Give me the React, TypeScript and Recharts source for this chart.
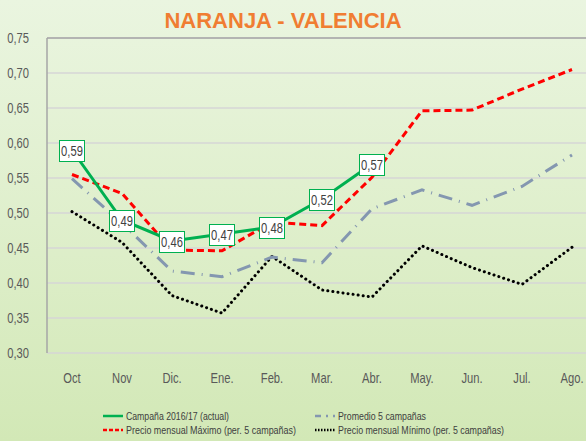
import { LineChart, Line, XAxis, YAxis, CartesianGrid, LabelList, ReferenceLine } from 'recharts';

const months = ['Oct', 'Nov', 'Dic.', 'Ene.', 'Feb.', 'Mar.', 'Abr.', 'May.', 'Jun.', 'Jul.', 'Ago.'];
const actual = [0.59, 0.49, 0.46, 0.47, 0.48, 0.52, 0.57, null, null, null, null];
const maximo = [0.555, 0.528, 0.447, 0.446, 0.487, 0.482, 0.551, 0.646, 0.647, 0.677, 0.705];
const promedio = [0.549, 0.485, 0.417, 0.409, 0.437, 0.429, 0.506, 0.533, 0.511, 0.538, 0.583];
const minimo = [0.502, 0.458, 0.382, 0.357, 0.438, 0.39, 0.38, 0.453, 0.422, 0.398, 0.451];
const yTicks = [0.3, 0.35, 0.4, 0.45, 0.5, 0.55, 0.6, 0.65, 0.7, 0.75];

const data = months.map((m, i) => ({
  month: m,
  actual: actual[i],
  maximo: maximo[i],
  promedio: promedio[i],
  minimo: minimo[i],
}));

const FONT = '"Liberation Sans", Arial, sans-serif';
const SQUEEZE = 0.8; // imita Arial Narrow
const fmt = (v: number) => v.toFixed(2).replace('.', ',');

const XTick = (props: any) => {
  const { x, y, payload } = props;
  return (
    <g transform={`translate(${x},${y}) scale(${SQUEEZE},1)`}>
      <text x={0} y={0} dy={10} textAnchor="middle" fontSize={14} fontFamily={FONT} fill="#595959">
        {payload.value}
      </text>
    </g>
  );
};

const YTick = (props: any) => {
  const { x, y, payload } = props;
  return (
    <g transform={`translate(${x},${y}) scale(${SQUEEZE},1)`}>
      <text x={0} y={0} dy={5} textAnchor="end" fontSize={14} fontFamily={FONT} fill="#595959">
        {fmt(payload.value)}
      </text>
    </g>
  );
};

// recuadro blanco con borde verde para los valores actuales
const BoxLabel = (props: any) => {
  const { x, y, value } = props;
  if (value == null) return null;
  const w = 25;
  const h = 21;
  return (
    <g>
      <rect x={x - w / 2} y={y - h / 2 + 1} width={w} height={h} fill="#fff" stroke="#00b050" strokeWidth={1} />
      <g transform={`translate(${x},${y + 6}) scale(${SQUEEZE},1)`}>
        <text x={0} y={0} textAnchor="middle" fontSize={14} fontFamily={FONT} fill="#404040">
          {fmt(value)}
        </text>
      </g>
    </g>
  );
};

const legendItems = [
  { label: 'Campaña 2016/17  (actual)', color: '#00b050', dash: undefined, x: 103, y: 416, len: 103 },
  { label: 'Promedio 5 campañas', color: '#8497b0', dash: '6 5 2 5', x: 315, y: 416, len: 88 },
  { label: 'Precio mensual Máximo  (per. 5 campañas)', color: '#ff0000', dash: '4 2', x: 103, y: 430, len: 170 },
  { label: 'Precio mensual Mínimo (per. 5 campañas)', color: '#000000', dash: '1.5 1.5', x: 315, y: 430, len: 166 },
];

export default function App() {
  return (
    <div
      style={{
        position: 'absolute',
        left: 0,
        top: 0,
        width: 586,
        height: 441,
        overflow: 'hidden',
        background: 'linear-gradient(180deg, #eaf5e0 0%, #dfefcc 50%, #d2e8b6 100%)',
      }}
    >
      <div
        style={{
          position: 'absolute',
          left: 0,
          width: 566,
          top: 8,
          textAlign: 'center',
          fontFamily: '"Liberation Sans", Arial, sans-serif',
          fontWeight: 'bold',
          fontSize: 22,
          color: '#f07d32',
        }}
      >
        NARANJA - VALENCIA
      </div>
      <LineChart width={600} height={441} data={data} margin={{ top: 38, right: 3, bottom: 58, left: 0 }} style={{ position: 'absolute', left: 0, top: 0 }}>
        <CartesianGrid vertical={false} stroke="#d6d6d6" strokeWidth={1.5} />
        <ReferenceLine y={0.75} stroke="#a6a6a6" strokeWidth={1.5} />
        <XAxis
          dataKey="month"
          axisLine={false}
          tickLine={false}
          tickMargin={14}
          height={30}
          padding={{ left: 25, right: 25 }}
          interval={0}
          tick={<XTick />}
        />
        <YAxis
          type="number"
          domain={[0.3, 0.75]}
          ticks={yTicks}
          width={47}
          interval={0}
          axisLine={{ stroke: '#a6a6a6', strokeWidth: 1.5 }}
          tickLine={false}
          tickMargin={12}
          tick={<YTick />}
        />
        <Line dataKey="minimo" stroke="#000000" strokeWidth={3} strokeDasharray="0.1 5" strokeLinecap="round" dot={false} isAnimationActive={false} />
        <Line dataKey="promedio" stroke="#8497b0" strokeWidth={3} strokeDasharray="14 7 1 7" dot={false} isAnimationActive={false} />
        <Line dataKey="maximo" stroke="#ff0000" strokeWidth={3} strokeDasharray="7 4" dot={false} isAnimationActive={false} />
        <Line dataKey="actual" stroke="#00b050" strokeWidth={3} dot={false} connectNulls={false} isAnimationActive={false}>
          <LabelList dataKey="actual" content={<BoxLabel />} />
        </Line>
      </LineChart>
      <svg width={586} height={441} style={{ position: 'absolute', left: 0, top: 0, pointerEvents: 'none' }}>
        {legendItems.map((it) => (
          <g key={it.label}>
            <line x1={it.x} x2={it.x + 20} y1={it.y} y2={it.y} stroke={it.color} strokeWidth={2.5} strokeDasharray={it.dash} />
            <text
              x={it.x + 23}
              y={it.y + 4}
              fontSize={11}
              fontFamily={FONT}
              fill="#404040"
              textLength={it.len}
              lengthAdjust="spacingAndGlyphs"
            >
              {it.label}
            </text>
          </g>
        ))}
      </svg>
    </div>
  );
}
